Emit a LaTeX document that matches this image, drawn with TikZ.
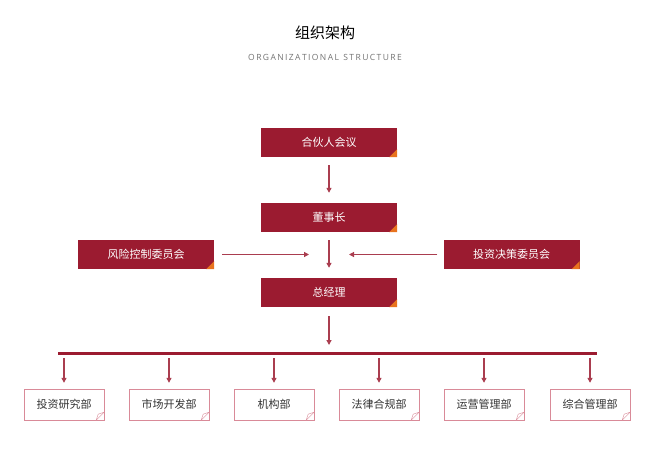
\documentclass[tikz,border=0pt]{standalone}
\usepackage{fontspec}
\setmainfont{Noto Sans CJK SC}
\newfontfamily\lat{Open Sans}
\usetikzlibrary{arrows.meta}
\definecolor{dred}{HTML}{9B1B30}
\definecolor{ora}{HTML}{E8731E}
\definecolor{pinkl}{HTML}{D98A98}
\begin{document}
\begin{tikzpicture}[x=1pt,y=-1pt,
  top/.style={fill=dred,text=white,minimum width=136pt,minimum height=29pt,inner sep=0pt,font=\fontsize{11}{11}\selectfont},
  dept/.style={draw=pinkl,fill=white,text=black!80,minimum width=80pt,minimum height=31pt,inner sep=0pt,font=\fontsize{11}{11}\selectfont},
  arr/.style={draw=dred!85,line width=1.2pt,-{Triangle[length=5pt,width=5pt]}}]
\useasboundingbox (0,0) rectangle (650,450);
\node at (325,33) {\fontsize{15}{15}\selectfont 组织架构};
\node[text=black!55] at (325,57) {\lat\fontsize{8.5}{8.5}\selectfont O\,R\,G\,A\,N\,I\,Z\,A\,T\,I\,O\,N\,A\,L\ \ S\,T\,R\,U\,C\,T\,U\,R\,E};
\node[top] (hh) at (329,142.5) {合伙人会议};
\node[top] (ds) at (329,217.5) {董事长};
\node[top] (zj) at (329,292.5) {总经理};
\node[top] (fx) at (146,254.5) {风险控制委员会};
\node[top] (tz) at (511.5,254.5) {投资决策委员会};
\foreach \n in {hh,ds,zj,fx,tz}{\fill[ora] (\n.south east) -- ++(-8,0) -- ++(8,-8) -- cycle;}
\coordinate (mid) at (329,254.5);
\draw[arr,shorten <=8pt,shorten >=10pt] (hh) -- (ds);
\draw[arr,shorten <=8pt,shorten >=10pt] (ds) -- (zj);
\draw[arr,shorten <=8pt,shorten >=20pt] (fx) -- (mid);
\draw[arr,shorten <=6pt,shorten >=20pt] (tz) -- (mid);
\coordinate (bl) at (58,353); \coordinate (br) at (597,353);
\coordinate (bm) at (329,353);
\draw[dred,line width=3pt] (bl) -- (br);
\draw[arr,shorten <=9pt,shorten >=8pt] (zj) -- (bm);
\foreach \i/\x/\t in {1/64/投资研究部,2/169/市场开发部,3/274/机构部,4/379/法律合规部,5/484/运营管理部,6/590/综合管理部}{
  \node[dept] (d\i) at (\x,404.5) {\t};
  \draw[pinkl,fill=white] (d\i.south east) ++(-8,0) -- ++(8,-8) -- ++(-6,2) -- cycle;
  \coordinate (t\i) at (\x,353);
  \draw[arr,shorten <=5pt,shorten >=6pt] (t\i) -- (d\i);
}
\end{tikzpicture}
\end{document}
